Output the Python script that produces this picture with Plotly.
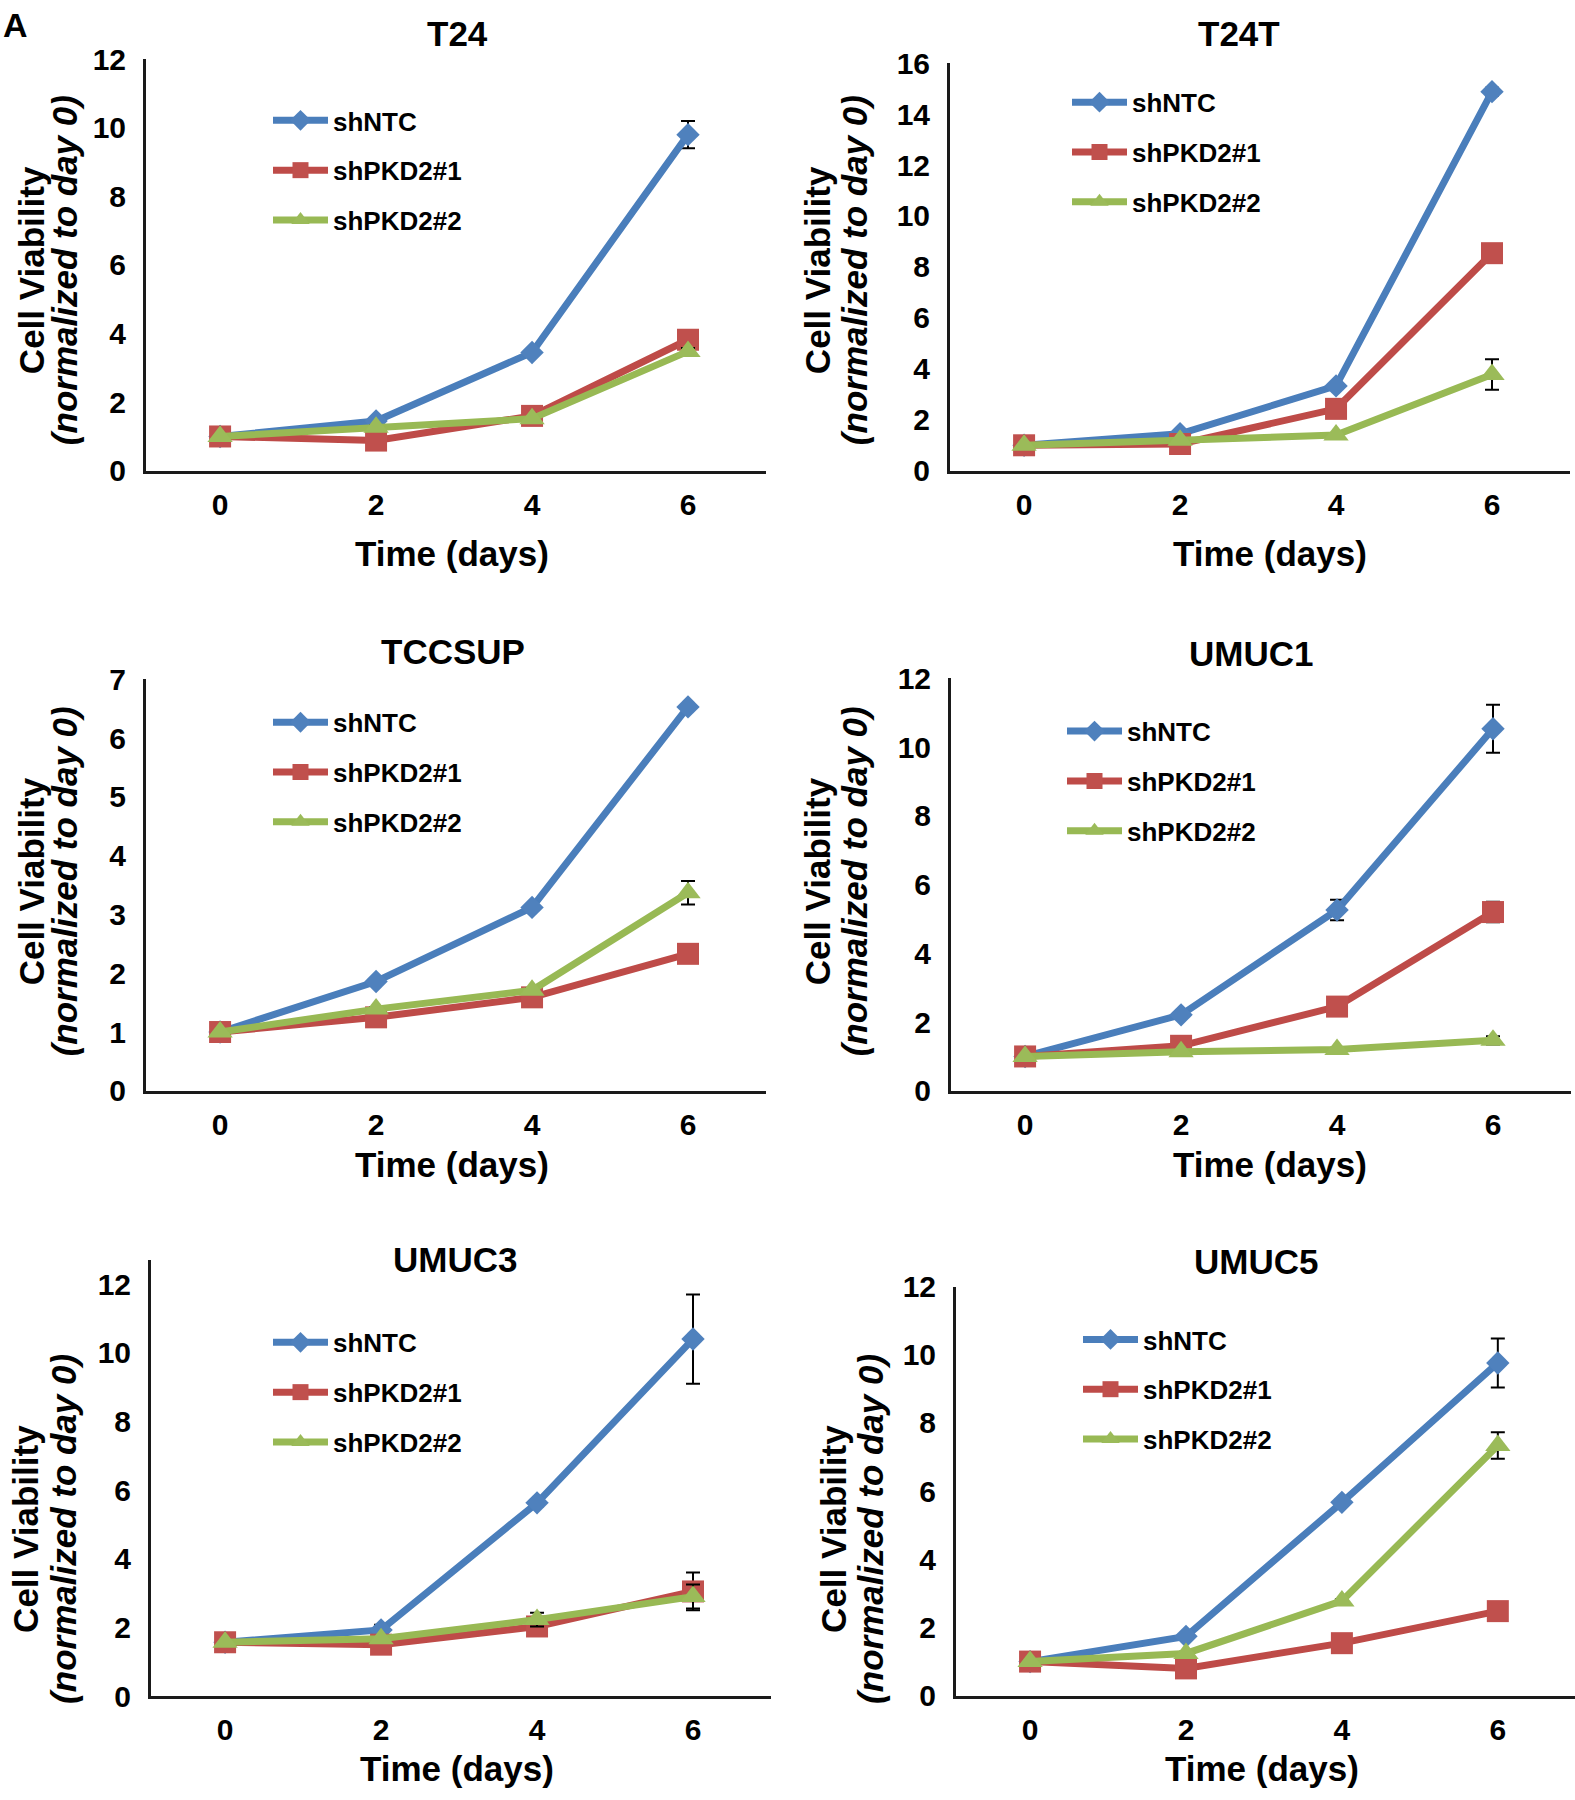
import plotly.graph_objects as go

W, H = 1575, 1800

# ---------------- data ----------------
days = [0, 2, 4, 6]
series_names = ["shNTC", "shPKD2#1", "shPKD2#2"]
panel_titles = ["T24", "T24T", "TCCSUP", "UMUC1", "UMUC3", "UMUC5"]
x_tick_vals = [0, 2, 4, 6]

t24_ntc = [1.0, 1.45, 3.45, 9.8]
t24_ntc_err = [0, 0.05, 0.1, 0.4]
t24_pkd1 = [1.0, 0.88, 1.6, 3.82]
t24_pkd1_err = [0, 0.05, 0.1, 0.1]
t24_pkd2 = [1.0, 1.27, 1.52, 3.48]
t24_pkd2_err = [0, 0.05, 0.05, 0.1]

t24t_ntc = [1.0, 1.45, 3.33, 14.88]
t24t_ntc_err = [0, 0.05, 0.1, 0.15]
t24t_pkd1 = [1.0, 1.05, 2.43, 8.54]
t24t_pkd1_err = [0, 0.05, 0.1, 0.3]
t24t_pkd2 = [1.0, 1.2, 1.4, 3.78]
t24t_pkd2_err = [0, 0.05, 0.05, 0.6]

tccsup_ntc = [1.0, 1.86, 3.12, 6.53]
tccsup_ntc_err = [0, 0.03, 0.03, 0.05]
tccsup_pkd1 = [1.0, 1.25, 1.59, 2.33]
tccsup_pkd1_err = [0, 0.03, 0.05, 0.05]
tccsup_pkd2 = [1.0, 1.39, 1.71, 3.37]
tccsup_pkd2_err = [0, 0.03, 0.03, 0.2]

umuc1_ntc = [1.0, 2.21, 5.26, 10.53]
umuc1_ntc_err = [0, 0.05, 0.3, 0.7]
umuc1_pkd1 = [1.0, 1.31, 2.45, 5.2]
umuc1_pkd1_err = [0, 0.05, 0.1, 0.3]
umuc1_pkd2 = [1.0, 1.14, 1.2, 1.47]
umuc1_pkd2_err = [0, 0.05, 0.05, 0.12]

umuc3_ntc = [1.57, 1.93, 5.63, 10.4]
umuc3_ntc_err = [0, 0.15, 0.1, 1.3]
umuc3_pkd1 = [1.57, 1.5, 2.03, 3.05]
umuc3_pkd1_err = [0, 0.05, 0.1, 0.55]
umuc3_pkd2 = [1.57, 1.67, 2.23, 2.9]
umuc3_pkd2_err = [0, 0.05, 0.2, 0.35]

umuc5_ntc = [1.0, 1.74, 5.67, 9.76]
umuc5_ntc_err = [0, 0.05, 0.1, 0.72]
umuc5_pkd1 = [1.0, 0.8, 1.54, 2.48]
umuc5_pkd1_err = [0, 0.05, 0.05, 0.05]
umuc5_pkd2 = [1.0, 1.24, 2.78, 7.34]
umuc5_pkd2_err = [0, 0.05, 0.05, 0.39]

y_max = [12, 16, 7, 12, 12.7, 12]
y_dtick = [2, 2, 1, 2, 2, 2]

panels_values = [
    [(t24_ntc, t24_ntc_err), (t24_pkd1, t24_pkd1_err), (t24_pkd2, t24_pkd2_err)],
    [(t24t_ntc, t24t_ntc_err), (t24t_pkd1, t24t_pkd1_err), (t24t_pkd2, t24t_pkd2_err)],
    [(tccsup_ntc, tccsup_ntc_err), (tccsup_pkd1, tccsup_pkd1_err), (tccsup_pkd2, tccsup_pkd2_err)],
    [(umuc1_ntc, umuc1_ntc_err), (umuc1_pkd1, umuc1_pkd1_err), (umuc1_pkd2, umuc1_pkd2_err)],
    [(umuc3_ntc, umuc3_ntc_err), (umuc3_pkd1, umuc3_pkd1_err), (umuc3_pkd2, umuc3_pkd2_err)],
    [(umuc5_ntc, umuc5_ntc_err), (umuc5_pkd1, umuc5_pkd1_err), (umuc5_pkd2, umuc5_pkd2_err)],
]

# ---------------- styles / layout (pixels) ----------------
FONT = "Liberation Sans, Arial, Helvetica, sans-serif"
line_colors = ["#4A7EBB", "#BE4B48", "#98B954"]
marker_colors = ["#4F81BD", "#C0504D", "#9BBB59"]
symbols = ["diamond", "square", "triangle-up"]
marker_sizes = [18, 22, 22]

# left, right, bottom, top in pixels
geom = [
    (146, 766, 462.5, 43),
    (950, 1570, 462.5, 47),
    (146, 766, 1094.5, 675),
    (951, 1571, 1094.5, 674),
    (151, 771, 1711.5, 1267),
    (956, 1575, 1711, 1294),
]
x_rng = [(-0.95, 7.0)] * 5 + [(-0.95, 6.99)]

title_pos = [(458, 17), (1239, 17), (453, 647), (1251, 649), (455, 1266), (1256, 1268)]
xtitle_pos = [(452, 546.5), (1270, 546.5), (452, 1170), (1270, 1170), (457, 1785), (1262, 1785)]
ytitle1_pos = [(31, 258), (817, 258), (31, 881), (817, 881), (26, 1541), (834, 1541)]
ytitle2_pos = [(64, 258), (854, 258), (64, 881), (854, 881), (64, 1541), (871, 1541)]
legend_pos = [(268, 81.5), (1067, 63), (268, 695), (1062, 704), (268, 1327), (1078, 1324)]


def px_x(p):
    return p / W


def px_y(p):
    return 1 - p / H


fig = go.Figure()
layout = dict(
    width=W, height=H, margin=dict(l=0, r=0, t=0, b=0),
    paper_bgcolor="white", plot_bgcolor="white", showlegend=True,
    font=dict(family=FONT, color="black"),
)
annotations = []

for i in range(6):
    sfx = "" if i == 0 else str(i + 1)
    xa, ya = "x" + sfx, "y" + sfx
    leg = "legend" + sfx
    l, r, b, t = geom[i]
    layout["xaxis" + sfx] = dict(
        domain=[px_x(l), min(px_x(r), 1.0)], range=list(x_rng[i]), anchor=ya,
        tickvals=x_tick_vals, showgrid=False, zeroline=False,
        showline=True, linecolor="#1a1a1a", linewidth=3, ticks="",
        tickfont=dict(family=FONT, size=30, weight="bold", color="black"),
        ticklabelstandoff=5, fixedrange=True,
    )
    layout["yaxis" + sfx] = dict(
        domain=[px_y(b), px_y(t)], range=[0, y_max[i]], anchor=xa,
        dtick=y_dtick[i], tick0=0, showgrid=False, zeroline=False,
        showline=True, linecolor="#1a1a1a", linewidth=3, ticks="",
        tickfont=dict(family=FONT, size=30, weight="bold", color="black"),
        ticklabelstandoff=11, fixedrange=True,
    )
    lx, ly = legend_pos[i]
    layout[leg] = dict(
        x=px_x(lx), y=px_y(ly), xanchor="left", yanchor="top",
        bgcolor="rgba(0,0,0,0)", borderwidth=0,
        font=dict(family=FONT, size=26, weight="bold", color="black"),
        tracegroupgap=13, traceorder="grouped", itemsizing="trace",
        itemwidth=55,
    )
    for k in range(3):
        vals, errs = panels_values[i][k]
        fig.add_trace(go.Scatter(
            x=days, y=vals, mode="lines+markers", name=series_names[k],
            xaxis=xa, yaxis=ya, legend=leg, legendgroup=f"p{i}s{k}",
            line=dict(color=line_colors[k], width=7),
            marker=dict(symbol=symbols[k], size=marker_sizes[k], color=marker_colors[k],
                        line=dict(width=0)),
            error_y=dict(type="data", array=errs, visible=True, color="black",
                         thickness=2, width=7),
            cliponaxis=False,
        ))
    tx, ty = title_pos[i]
    annotations.append(dict(text="<b>" + panel_titles[i] + "</b>", x=px_x(tx), y=px_y(ty),
                            xref="paper", yref="paper", showarrow=False,
                            xanchor="center", yanchor="middle",
                            font=dict(family=FONT, size=35, color="black")))
    xx, xy = xtitle_pos[i]
    annotations.append(dict(text="<b>Time (days)</b>", x=px_x(xx), y=px_y(xy),
                            xref="paper", yref="paper", showarrow=False,
                            xanchor="center", yanchor="middle",
                            font=dict(family=FONT, size=35, color="black")))
    y1x, y1y = ytitle1_pos[i]
    annotations.append(dict(text="<b>Cell Viability</b>", x=px_x(y1x), y=px_y(y1y),
                            xref="paper", yref="paper", showarrow=False, textangle=-90,
                            xanchor="center", yanchor="middle",
                            font=dict(family=FONT, size=35, color="black")))
    y2x, y2y = ytitle2_pos[i]
    annotations.append(dict(text="<b><i>(normalized to day 0)</i></b>", x=px_x(y2x), y=px_y(y2y),
                            xref="paper", yref="paper", showarrow=False, textangle=-90,
                            xanchor="center", yanchor="middle",
                            font=dict(family=FONT, size=35, color="black")))

annotations.append(dict(text="<b>A</b>", x=px_x(15), y=px_y(8), xref="paper", yref="paper",
                        showarrow=False, xanchor="center", yanchor="middle",
                        font=dict(family=FONT, size=34, color="black")))
layout["annotations"] = annotations
fig.update_layout(**layout)
fig.write_html("out.html", config={"displayModeBar": False},
               post_script="document.body.style.margin='0px';document.body.style.padding='0px';")
